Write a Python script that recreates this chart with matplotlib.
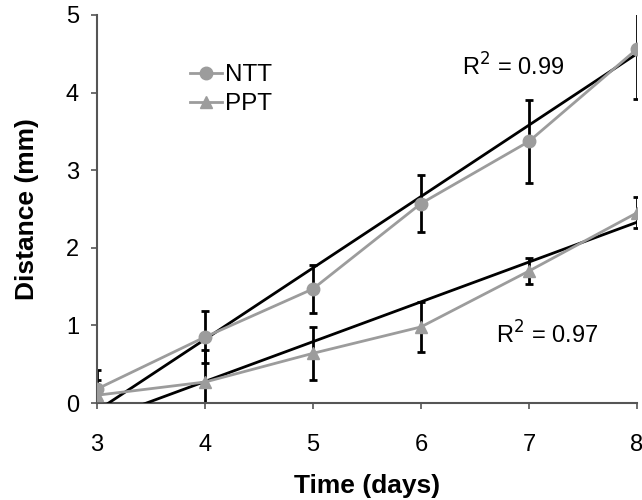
import matplotlib.pyplot as plt
import numpy as np

plt.rcParams['font.family'] = ['Liberation Sans', 'DejaVu Sans']

days = [3, 4, 5, 6, 7, 8]
ntt = [0.18, 0.85, 1.47, 2.57, 3.37, 4.56]
ntt_err = [0.25, 0.33, 0.31, 0.37, 0.53, 0.64]
ppt = [0.10, 0.27, 0.64, 0.98, 1.70, 2.45]
ppt_err = [0.20, 0.41, 0.34, 0.32, 0.17, 0.20]

# trendlines (slope, intercept)
ntt_fit = (0.92, -2.86)
ppt_fit = (0.513, -1.775)
ntt_r2 = 0.99
ppt_r2 = 0.97

grey = '#9c9c9c'

fig = plt.figure(figsize=(6.42, 5), dpi=100)
ax = fig.add_axes([0.151, 0.194, 0.841, 0.776])

x = np.array(days, dtype=float)
ax.errorbar(x, ntt, yerr=ntt_err, fmt='none', ecolor='black', elinewidth=2, capsize=3, capthick=2, zorder=2)
ax.errorbar(x, ppt, yerr=ppt_err, fmt='none', ecolor='black', elinewidth=2, capsize=3, capthick=2, zorder=2)

xf = np.array([3, 8])
ax.plot(xf, ntt_fit[0] * xf + ntt_fit[1], color='black', lw=2, zorder=3)
ax.plot(xf, ppt_fit[0] * xf + ppt_fit[1], color='black', lw=2, zorder=3)

ax.plot(x, ntt, color=grey, lw=2, marker='o', ms=9, label='NTT', zorder=4)
ax.plot(x, ppt, color=grey, lw=2, marker='^', ms=9, label='PPT', zorder=4)

ax.text(6.85, 4.33, 'R$^2$ = %.2f' % ntt_r2, fontsize=17, ha='center', va='center')
ax.text(7.17, 0.88, 'R$^2$ = %.2f' % ppt_r2, fontsize=17, ha='center', va='center')

ax.set_xlim(3, 8)
ax.set_ylim(0, 5)
ax.set_xticks(days)
ax.set_yticks(range(6))
for s in ['top', 'right']:
    ax.spines[s].set_visible(False)
for s in ['left', 'bottom']:
    ax.spines[s].set_color('#555555')
    ax.spines[s].set_linewidth(1.5)
ax.tick_params(direction='out', length=4, width=1.2, color='#555555', labelsize=17)
ax.tick_params(axis='x', pad=18)
ax.tick_params(axis='y', pad=9)
ax.set_xlabel('Time (days)', fontsize=19, fontweight='bold', labelpad=13)
ax.set_ylabel('Distance (mm)', fontsize=19, fontweight='bold', labelpad=19)

ax.legend(loc='upper left', bbox_to_anchor=(0.15, 0.905), frameon=False, fontsize=17.5,
          handlelength=1.3, handletextpad=0.15, labelspacing=0.3, borderpad=0)

fig.savefig('out.png', dpi=100)
